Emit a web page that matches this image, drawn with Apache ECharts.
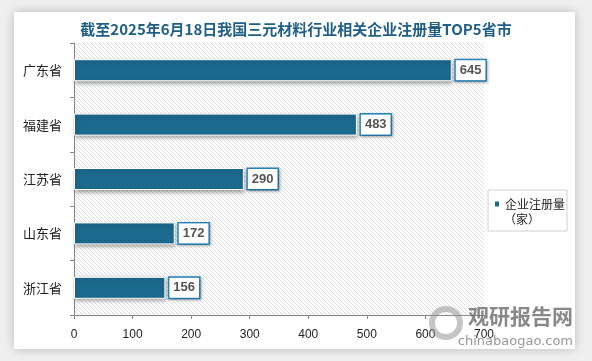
<!DOCTYPE html>
<html><head><meta charset="utf-8">
<script src="https://cdn.jsdelivr.net/npm/echarts@6/dist/echarts.min.js"></script>
<style>html,body{margin:0;padding:0;background:#efefef;}#c{width:592px;height:361px;}</style>
</head><body><div id="c"></div>
<script>
var categories = ['广东省','福建省','江苏省','山东省','浙江省'];
var values = [645, 483, 290, 172, 156];
var seriesName = '企业注册量';
var unitText = '（家）';
var titleText = '截至2025年6月18日我国三元材料行业相关企业注册量TOP5省市';
var xTicks = [0, 100, 200, 300, 400, 500, 600, 700];

var pc = document.createElement('canvas');
pc.width = 4; pc.height = 4;
var ctx = pc.getContext('2d');
ctx.fillStyle = '#ffffff'; ctx.fillRect(0,0,4,4);
ctx.fillStyle = '#dedede';
for (var i = 0; i < 4; i++) { ctx.fillRect(i, i, 1, 1); }

var chart = echarts.init(document.getElementById('c'));
chart.setOption({
  animation: false,
  graphic: [
    {type:'rect', shape:{x:14,y:12,width:561,height:337}, style:{fill:'#fff', shadowBlur:10, shadowColor:'rgba(0,0,0,0.22)'}, z:-10},
    {type:'circle', shape:{cx:446, cy:323, r:14}, style:{fill:'none', stroke:'rgba(150,150,150,0.55)', lineWidth:6}, z:100},
    {type:'text', x:573, y:306, style:{text:'观研报告网', textAlign:'right', font:'bold 21px "Noto Sans CJK SC"', fill:'rgba(115,115,115,0.85)'}, z:100},
    {type:'text', x:573, y:335, style:{text:'chinabaogao.com', textAlign:'right', font:'13px "DejaVu Sans"', fill:'rgba(125,125,125,0.8)'}, z:100},
    {type:'text', x:504, y:213, style:{text:unitText, font:'12px "Noto Sans CJK SC"', fill:'#222'}, z:100}
  ],
  title: {
    text: titleText, left: 'center', top: 17,
    textStyle: {fontFamily:'"Noto Sans CJK SC"', fontWeight:'bold', fontSize:15, color:'#1f5f86'}
  },
  grid: {left:74, right:108, top:43, bottom:46, show:true, borderWidth:0,
    backgroundColor: {image: pc, repeat:'repeat'}},
  legend: {
    orient:'vertical', left:488, top:190, icon:'rect', itemWidth:6, itemHeight:7,
    borderColor:'#d0d0d0', borderWidth:1, padding:[8,2,21,5],
    textStyle:{fontSize:12, color:'#222', fontFamily:'"Noto Sans CJK SC"'},
    data:[seriesName]
  },
  xAxis: {
    type:'value', min:0, max:700, interval:100,
    axisLine:{show:true, lineStyle:{color:'#888'}},
    axisTick:{show:true, length:4, lineStyle:{color:'#888'}},
    splitLine:{show:false},
    axisLabel:{color:'#222', fontSize:12, margin:14, fontFamily:'"Liberation Sans"'}
  },
  yAxis: {
    type:'category', data:categories, inverse:true,
    axisLine:{show:true, lineStyle:{color:'#888'}},
    axisTick:{show:true, length:4, lineStyle:{color:'#888'}},
    axisLabel:{color:'#222', fontSize:13, margin:12, fontFamily:'"Noto Sans CJK SC"'}
  },
  series: [{
    name: seriesName, type:'bar', data: values, barWidth: 22,
    itemStyle:{color:'#1c6a8e', borderColor:'#fff', borderWidth:1, shadowBlur:4, shadowColor:'rgba(0,0,0,0.35)', shadowOffsetX:1, shadowOffsetY:2},
    label:{show:true, position:'right', distance:4, backgroundColor:'#fff', borderColor:'#2886bd', borderWidth:1.5,
      padding:[4,4,3,4], color:'#555', fontWeight:'bold', fontSize:13, fontFamily:'"Liberation Sans"',
      shadowBlur:3, shadowColor:'rgba(0,0,0,0.3)', shadowOffsetX:1, shadowOffsetY:1}
  }]
});
</script></body></html>
